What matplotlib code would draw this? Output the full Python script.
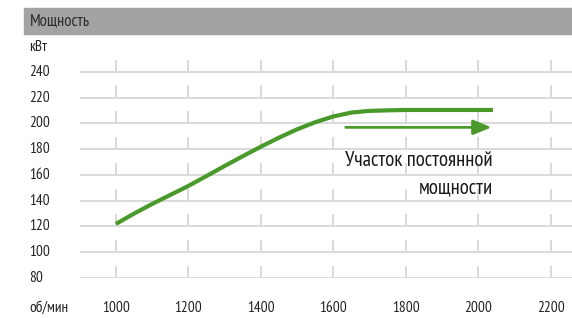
import matplotlib.pyplot as plt
from matplotlib.patches import Rectangle
from matplotlib.transforms import blended_transform_factory

# data
rpm = [1000, 1050, 1100, 1150, 1200, 1250, 1300, 1350, 1400, 1450, 1500,
       1550, 1600, 1650, 1700, 1750, 1800, 1900, 2000, 2040]
power = [122, 130, 137.5, 144.5, 151.5, 159.2, 167, 174.6, 182, 189, 195.5,
         201, 205.5, 208.5, 209.8, 210.2, 210.5, 210.5, 210.5, 210.5]
x_ticks = [1000, 1200, 1400, 1600, 1800, 2000, 2200]
y_ticks = [80, 100, 120, 140, 160, 180, 200, 220, 240]
arrow_x = [1634, 2036]
arrow_y = 197

W, H = 572, 318
plt.rcParams['font.family'] = ['PT Sans Narrow', 'DejaVu Sans']

fig = plt.figure(figsize=(W / 100, H / 100), dpi=100)

# header bar
fig.patches.append(Rectangle((24 / W, 1 - 34 / H), 1 - 24 / W, 26 / H,
                             transform=fig.transFigure, color='#a3a3a3', zorder=0))
fig.text(30 / W, 1 - 21 / H, 'Мощность', fontsize=12, color='#2b2b2b', va='center', ha='left')
fig.text(29 / W, 1 - 47 / H, 'кВт', fontsize=11, color='#222222', va='center', ha='left')
fig.text(29 / W, 1 - 308 / H, 'об/мин', fontsize=11, color='#222222', va='center', ha='left')

ax = fig.add_axes([80 / W, 1 - 278 / H, 1 - 80 / W, (278 - 60) / H])
ax.set_xlim(901, 2258)
ax.set_ylim(80, 249.3)
ax.axis('off')

# grid: horizontal lines with short vertical marks sitting on them
for v in y_ticks:
    ax.axhline(v, color='#d9d9d9', lw=1.4, zorder=1)
    ax.vlines(x_ticks, v, v + 9.5, color='#d9d9d9', lw=1.4, zorder=1)

# tick labels
ytrans = blended_transform_factory(fig.transFigure, ax.transData)
for v in y_ticks:
    fig.text(29 / W, v, str(v), fontsize=11, color='#222222', va='center', ha='left',
             transform=ytrans)
xtrans = blended_transform_factory(ax.transData, fig.transFigure)
for x in x_ticks:
    ax.text(x, 1 - 308 / H, str(x), fontsize=11, color='#222222', va='center', ha='center',
            transform=xtrans)

ax.plot(rpm, power, color='#4a9a2b', lw=3, solid_capstyle='butt',
        solid_joinstyle='round', zorder=3)

ax.annotate('', xy=(arrow_x[1], arrow_y), xytext=(arrow_x[0], arrow_y),
            arrowprops=dict(arrowstyle='-|>,head_length=1.1,head_width=0.45',
                            color='#4a9a2b', lw=2, shrinkA=0, shrinkB=0))
ax.text(2040, 171, 'Участок постоянной', fontsize=15, color='#1a1a1a', ha='right', va='center')
ax.text(2040, 150, 'мощности', fontsize=15, color='#1a1a1a', ha='right', va='center')

fig.savefig('out.png', dpi=100)
